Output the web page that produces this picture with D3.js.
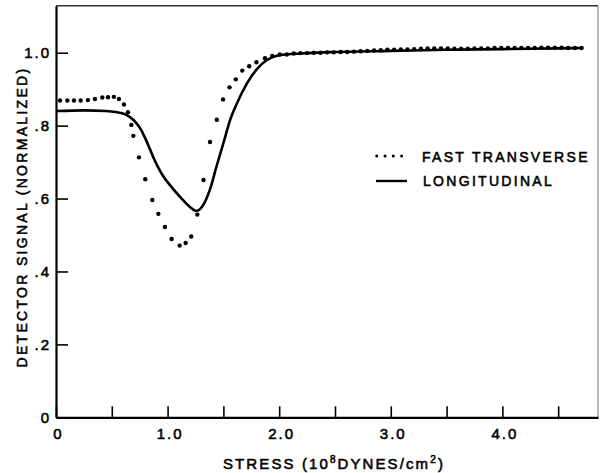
<!DOCTYPE html>
<html>
<head>
<meta charset="utf-8">
<script src="https://cdn.jsdelivr.net/npm/d3@7"></script>
<style>
  html, body { margin: 0; padding: 0; background: #fff; }
  svg { display: block; }
  text { font-family: "Liberation Sans", Arial, sans-serif; fill: #000; stroke: #000; stroke-width: 0.55; }
</style>
</head>
<body>
<script>
// ---- data ----
const xTicks = [0, 0.5, 1, 1.5, 2, 2.5, 3, 3.5, 4, 4.5];
const xTickLabels = ["0", "", "1.0", "", "2.0", "", "3.0", "", "4.0", ""];
const yTicks = [0, 0.2, 0.4, 0.6, 0.8, 1.0];
const yTickLabels = ["0", ".2", ".4", ".6", ".8", "1.0"];

const seriesNames = ["FAST TRANSVERSE", "LONGITUDINAL"];

// Fast transverse (dotted, individual points)
const transverseX = [0.036, 0.102, 0.161, 0.221, 0.286, 0.349, 0.415, 0.466, 0.519, 0.564,
  0.609, 0.645, 0.675, 0.693, 0.743, 0.800, 0.863, 0.917, 0.976, 1.036,
  1.108, 1.162, 1.212, 1.266, 1.322, 1.380, 1.441, 1.497, 1.555, 1.611,
  1.669, 1.731, 1.796, 1.873, 1.937, 2.005, 2.068, 2.131,
  2.19, 2.25, 2.31, 2.37, 2.43, 2.49, 2.55, 2.61, 2.67, 2.73, 2.79, 2.85, 2.91, 2.97,
  3.03, 3.09, 3.15, 3.21, 3.27, 3.33, 3.39, 3.45, 3.51, 3.57, 3.63, 3.69, 3.75, 3.81,
  3.87, 3.93, 3.99, 4.05, 4.11, 4.17, 4.23, 4.29, 4.35, 4.41, 4.47, 4.53, 4.59, 4.65, 4.71];
const transverseY = [0.869, 0.869, 0.869, 0.869, 0.870, 0.873, 0.877, 0.878, 0.879, 0.873,
  0.858, 0.837, 0.802, 0.772, 0.713, 0.653, 0.596, 0.558, 0.522, 0.489,
  0.471, 0.478, 0.496, 0.556, 0.651, 0.755, 0.816, 0.872, 0.905, 0.927,
  0.951, 0.963, 0.974, 0.985, 0.991, 0.995, 0.995, 0.998,
  0.999, 0.999, 1.000, 1.000, 1.001, 1.001, 1.002, 1.002, 1.003, 1.004, 1.005, 1.006, 1.007, 1.008,
  1.008, 1.009, 1.009, 1.010, 1.011, 1.012, 1.012, 1.012, 1.012, 1.011, 1.011, 1.011, 1.012, 1.012,
  1.012, 1.013, 1.013, 1.013, 1.013, 1.013, 1.013, 1.013, 1.014, 1.014, 1.014, 1.014, 1.013, 1.013, 1.013];

// Longitudinal (solid curve)
const longitudinalX = [0, 0.25, 0.45, 0.60, 0.66, 0.72, 0.76, 0.80, 0.84, 0.88, 0.92, 0.96, 1.00, 1.07, 1.12, 1.20, 1.26,
  1.31, 1.38, 1.44, 1.50, 1.56, 1.62, 1.71, 1.80, 1.89, 2.00, 2.20, 2.50, 3.00, 3.50, 4.00, 4.50, 4.72];
const longitudinalY = [0.840, 0.842, 0.840, 0.833, 0.824, 0.807, 0.790, 0.765, 0.737, 0.708, 0.683, 0.662, 0.645, 0.619, 0.602, 0.577, 0.566,
  0.578, 0.625, 0.690, 0.752, 0.815, 0.860, 0.915, 0.955, 0.980, 0.993, 0.998, 1.002, 1.005, 1.008, 1.010, 1.012, 1.013];

// ---- chart ----
const W = 600, H = 473;
const svg = d3.select("body").append("svg").attr("width", W).attr("height", H);

const x = d3.scaleLinear().domain([0, 4.857]).range([56, 598]);
const y = d3.scaleLinear().domain([0, 1.129]).range([417.3, 5.7]);

// frame top / right
svg.append("line").attr("x1", x(0)).attr("x2", x(4.857)).attr("y1", y(1.129)).attr("y2", y(1.129))
  .attr("stroke", "#333").attr("stroke-width", 1.6);
svg.append("line").attr("x1", x(4.857)).attr("x2", x(4.857)).attr("y1", y(1.129)).attr("y2", y(0))
  .attr("stroke", "#777").attr("stroke-width", 1);

// x axis
const xAxis = d3.axisBottom(x).tickValues(xTicks).tickSizeInner(-11).tickSizeOuter(0)
  .tickPadding(11.5).tickFormat((d, i) => xTickLabels[i]);
const gx = svg.append("g").attr("transform", `translate(0,${y(0)})`).call(xAxis);
gx.select(".domain").attr("stroke", "#000").attr("stroke-width", 2.2);
gx.selectAll(".tick line").attr("stroke", "#000").attr("stroke-width", 1.6);
gx.selectAll(".tick text").attr("font-size", 15).attr("letter-spacing", 2).attr("dx", 2)
  .attr("font-family", "Liberation Sans, Arial, sans-serif");

// y axis
const yAxis = d3.axisLeft(y).tickValues(yTicks).tickSizeInner(-12).tickSizeOuter(0)
  .tickPadding(5).tickFormat((d, i) => yTickLabels[i]);
const gy = svg.append("g").attr("transform", `translate(${x(0)},0)`).call(yAxis);
gy.select(".domain").attr("stroke", "#000").attr("stroke-width", 2.2);
gy.selectAll(".tick line").attr("stroke", "#000").attr("stroke-width", 1.6);
gy.selectAll(".tick text").attr("font-size", 15).attr("letter-spacing", 2)
  .attr("font-family", "Liberation Sans, Arial, sans-serif");

// longitudinal line
const lonData = longitudinalX.map((v, i) => [v, longitudinalY[i]]);
svg.append("path").datum(lonData)
  .attr("fill", "none").attr("stroke", "#000").attr("stroke-width", 2.6)
  .attr("stroke-linejoin", "round")
  .attr("d", d3.line().x(d => x(d[0])).y(d => y(d[1])).curve(d3.curveMonotoneX));

// transverse dots
const trData = transverseX.map((v, i) => [v, transverseY[i]]);
svg.append("g").selectAll("circle").data(trData).join("circle")
  .attr("cx", d => x(d[0])).attr("cy", d => y(d[1])).attr("r", 2.2).attr("fill", "#000");

// legend
const lg = svg.append("g");
lg.append("line").attr("x1", 376.7).attr("x2", 402).attr("y1", 156).attr("y2", 156)
  .attr("stroke", "#000").attr("stroke-width", 3).attr("stroke-linecap", "round")
  .attr("stroke-dasharray", "0,8.3");
lg.append("line").attr("x1", 376).attr("x2", 407).attr("y1", 181).attr("y2", 181)
  .attr("stroke", "#000").attr("stroke-width", 2.4);
lg.append("text").attr("x", 422).attr("y", 157).attr("dy", "0.36em").attr("font-size", 14)
  .attr("letter-spacing", 2.3).text(seriesNames[0]);
lg.append("text").attr("x", 423).attr("y", 181).attr("dy", "0.36em").attr("font-size", 14)
  .attr("letter-spacing", 2.3).text(seriesNames[1]);

// axis titles
const xt = svg.append("text").attr("x", 334).attr("y", 468.5)
  .attr("text-anchor", "middle").attr("font-size", 15).attr("letter-spacing", 2.1);
xt.append("tspan").text("STRESS  (10");
xt.append("tspan").attr("font-size", 10).attr("dy", -6).text("8");
xt.append("tspan").attr("dy", 6).text("DYNES/cm");
xt.append("tspan").attr("font-size", 10).attr("dy", -6).text("2");
xt.append("tspan").attr("dy", 6).text(")");

svg.append("text").attr("transform", "translate(21.5,217) rotate(-90)")
  .attr("dy", "0.36em").attr("text-anchor", "middle").attr("font-size", 14)
  .attr("letter-spacing", 2.3).text("DETECTOR  SIGNAL  (NORMALIZED)");
</script>
</body>
</html>
